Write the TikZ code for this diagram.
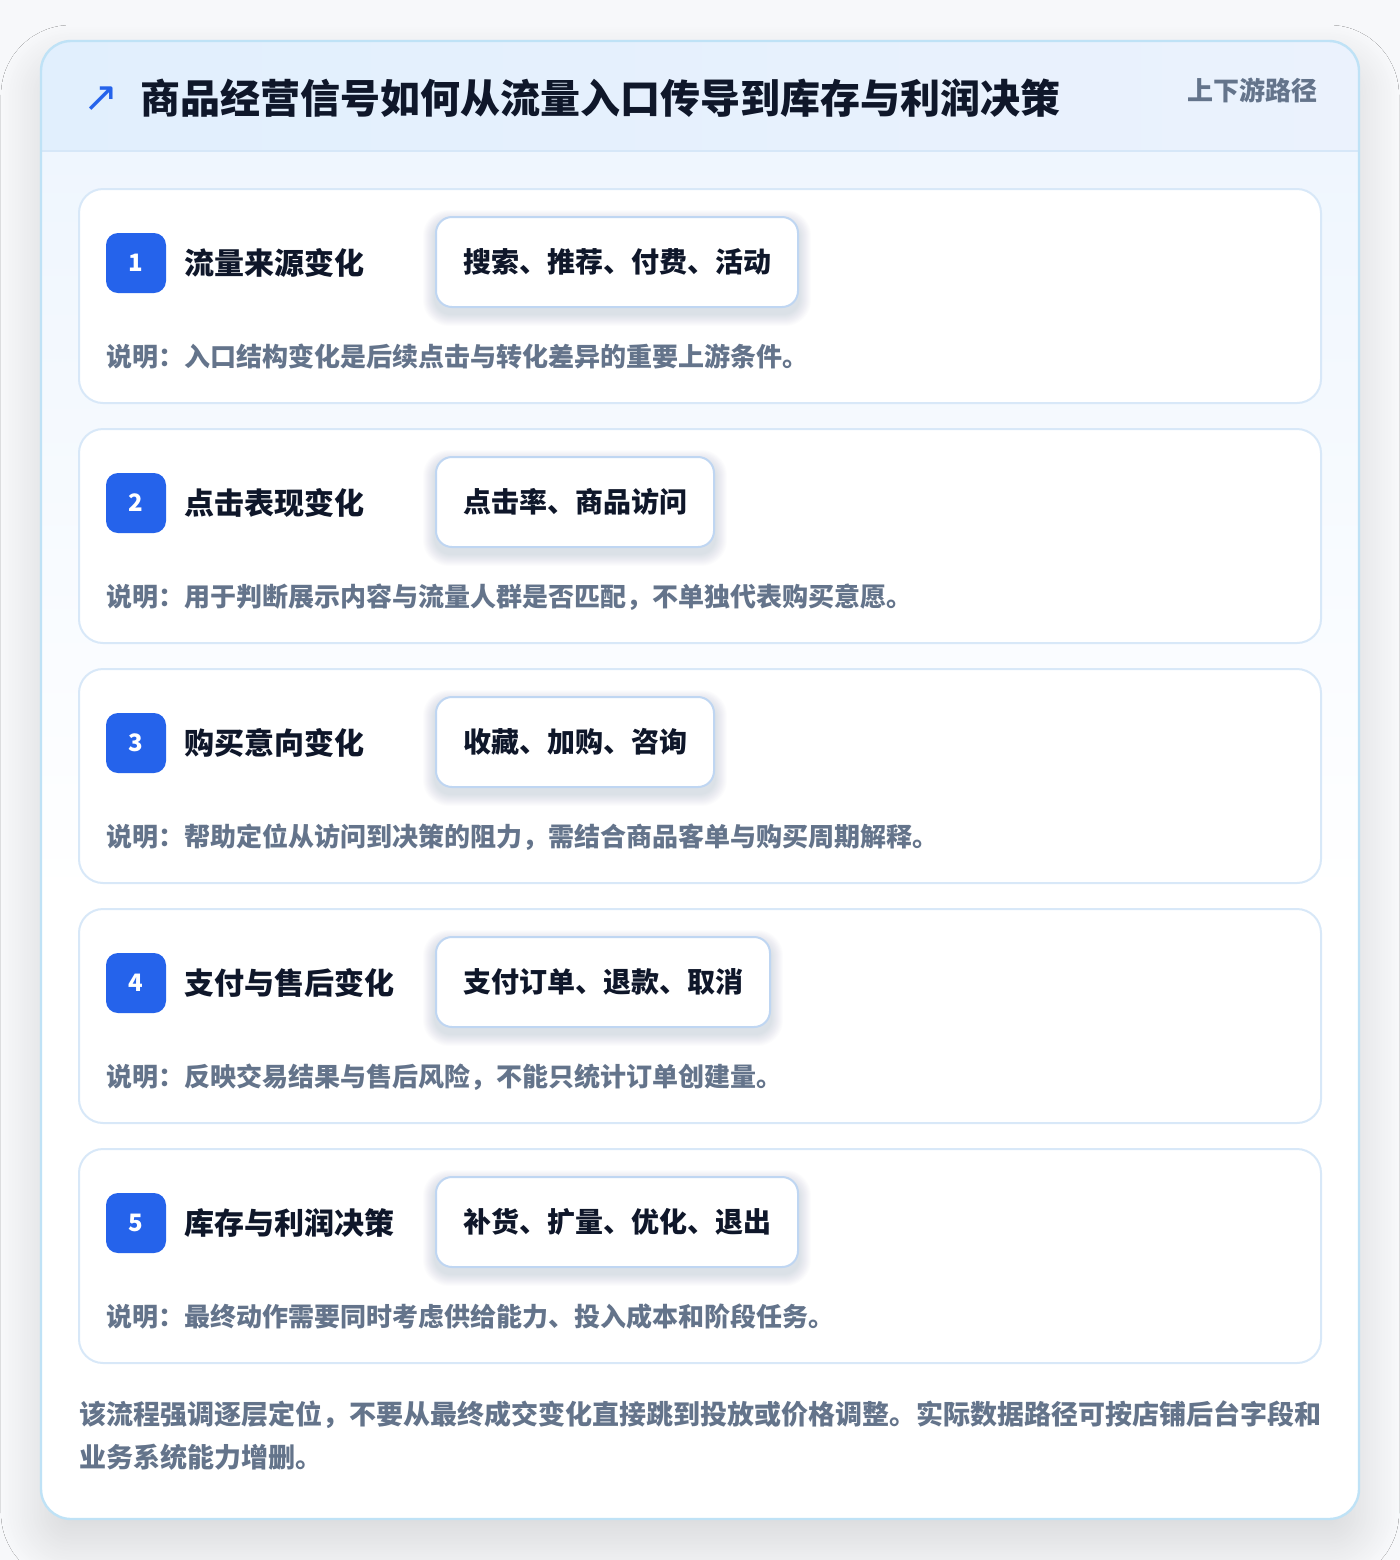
\documentclass[tikz,border=0pt]{standalone}
\usepackage{fontspec}
\setmainfont{Noto Sans CJK SC}
\newfontfamily\symfont{DejaVu Sans}
\usetikzlibrary{shadows.blur}
\pgfdeclarelayer{under}
\pgfdeclarelayer{shad}
\pgfsetlayers{under,shad,main}
\definecolor{pagebg}{HTML}{F7F8FA}
\definecolor{outerline}{HTML}{BFE2F6}
\definecolor{hdrL}{HTML}{E1EFFD}
\definecolor{hdrR}{HTML}{EBF2FD}
\definecolor{hdrline}{HTML}{D6E7F8}
\definecolor{bodytop}{HTML}{EFF6FE}
\definecolor{cardline}{HTML}{D8E8F8}
\definecolor{tagline}{HTML}{BFD6F2}
\definecolor{accent}{HTML}{2563EB}
\definecolor{ink}{HTML}{0F172A}
\definecolor{muted}{HTML}{64748B}
\definecolor{shadowcol}{HTML}{334466}
\tikzset{
  cardbox/.style={draw=cardline, line width=1pt, fill=white, rounded corners=12pt,
    minimum width=621pt, minimum height=107pt, inner sep=0pt},
  badge/.style={fill=accent, rounded corners=6pt, minimum size=30pt, inner sep=0pt,
    text=white, font=\bfseries\fontsize{12}{14}\selectfont},
  steptitle/.style={anchor=west, inner sep=0pt, text=ink, font=\bfseries\fontsize{15}{18}\selectfont},
  tagbox/.style={anchor=west, draw=tagline, line width=1pt, fill=white, rounded corners=8pt,
    inner xsep=13.5pt, inner ysep=0pt, minimum height=45pt, text=ink,
    font=\bfseries\fontsize{14}{17}\selectfont},
  softlayer/.style={fill=shadowcol, fill opacity=0.011, draw=none},
  desc/.style={anchor=west, inner sep=0pt, text=muted, font=\bfseries\fontsize{13}{16}\selectfont},
  foot/.style={anchor=west, inner sep=0pt, text=muted, font=\bfseries\fontsize{13.5}{16}\selectfont},
}
\begin{document}
\begin{tikzpicture}[x=0.5pt,y=-0.5pt]
\useasboundingbox (0,0) rectangle (1400,1560);
\begin{pgfonlayer}{under}
\fill[pagebg] (0,0) rectangle (1400,1560);
% outer card with shadow
\path[fill=white, rounded corners=15pt,
  blur shadow={shadow xshift=0pt, shadow yshift=-12pt, shadow blur radius=20pt,
    shadow blur steps=30, shadow opacity=13}]
  (41,41) rectangle (1359,1519);
\begin{scope}
  \clip[rounded corners=15pt] (41,41) rectangle (1359,1519);
  \shade[top color=bodytop, bottom color=white] (41,151) rectangle (1359,900);
  \fill[white] (41,899) rectangle (1359,1519);
  \shade[left color=hdrL, right color=hdrR] (41,41) rectangle (1359,151);
  \draw[hdrline, line width=1pt] (41,151) -- (1359,151);
\end{scope}
\draw[outerline, line width=1.2pt, rounded corners=15pt] (41,41) rectangle (1359,1519);
\end{pgfonlayer}

% header
\node[inner sep=0pt, text=accent, font=\symfont\fontsize{21}{24}\selectfont] (icon) at (101,99) {↗};
\node[anchor=west, inner sep=0pt, text=ink, font=\bfseries\fontsize{20}{24}\selectfont] (title) at (140,98)
  {商品经营信号如何从流量入口传导到库存与利润决策};
\node[anchor=east, inner sep=0pt, text=muted, font=\bfseries\fontsize{13}{16}\selectfont] (sub) at (1318,90) {上下游路径};

% cards
\foreach \i/\ttl/\tag/\dsc in {
  1/流量来源变化/搜索、推荐、付费、活动/说明：入口结构变化是后续点击与转化差异的重要上游条件。,
  2/点击表现变化/点击率、商品访问/说明：用于判断展示内容与流量人群是否匹配，不单独代表购买意愿。,
  3/购买意向变化/收藏、加购、咨询/说明：帮助定位从访问到决策的阻力，需结合商品客单与购买周期解释。,
  4/支付与售后变化/支付订单、退款、取消/说明：反映交易结果与售后风险，不能只统计订单创建量。,
  5/库存与利润决策/补货、扩量、优化、退出/说明：最终动作需要同时考虑供给能力、投入成本和阶段任务。}{
  \pgfmathsetmacro{\top}{189+240*(\i-1)}
  \begin{pgfonlayer}{under}
    \node[cardbox] (card\i) at (700,\top+107) {};
  \end{pgfonlayer}
  \node[badge] (badge\i) at (136,\top+74) {\i};
  \node[steptitle] (title\i) at (184,\top+74) {\ttl};
  \node[tagbox] (tag\i) at (435,\top+73) {\tag};
  \begin{pgfonlayer}{shad}
    \foreach \k in {1,...,12}{
      \fill[softlayer, rounded corners=8pt+0.4*\k pt]
        ([xshift=-0.5*\k pt, yshift=-3pt-0.5*\k pt]tag\i.south west) rectangle
        ([xshift=0.5*\k pt, yshift=-3pt+0.5*\k pt]tag\i.north east);
    }
  \end{pgfonlayer}
  \node[desc] (desc\i) at (106,\top+168) {\dsc};
}

% footer
\node[foot] (foot1) at (79,1415) {该流程强调逐层定位，不要从最终成交变化直接跳到投放或价格调整。实际数据路径可按店铺后台字段和};
\node[foot] (foot2) at (79,1457) {业务系统能力增删。};
\end{tikzpicture}
\end{document}
